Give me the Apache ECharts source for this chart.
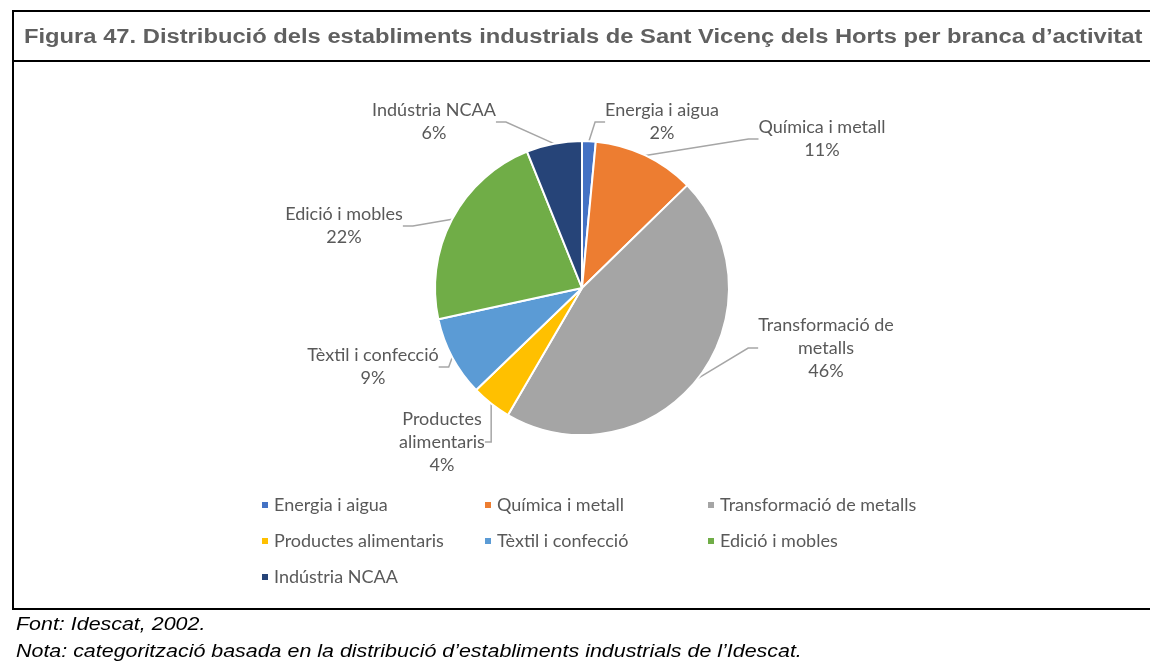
<!DOCTYPE html>
<html>
<head>
<meta charset="utf-8">
<script src="https://cdn.jsdelivr.net/npm/echarts@6/dist/echarts.min.js"></script>
<style>
	html,body{margin:0;padding:0;background:#fff;}
	#echarts{width:1150px;height:662px;}
</style>
</head>
<body>
<div id="echarts"></div>
<script>
//branques d'activitat
var categories = ['Energia i aigua', 'Química i metall', 'Transformació de metalls', 'Productes alimentaris', 'Tèxtil i confecció', 'Edició i mobles', 'Indústria NCAA'];
//text de les etiquetes (amb salts de línia)
var labelNames = ['Energia i aigua', 'Química i metall', 'Transformació de\nmetalls', 'Productes\nalimentaris', 'Tèxtil i confecció', 'Edició i mobles', 'Indústria NCAA'];
//percentatge d'establiments
var values = [1.5, 11.2, 45.7, 4.4, 8.8, 22.3, 6.1];
var colors = ['#4472C4', '#ED7D31', '#A5A5A5', '#FFC000', '#5B9BD5', '#70AD47', '#264478'];
//posició del centre de cada etiqueta
var labelPos = [[662, 122], [822, 139], [826, 348], [442, 442], [373, 367], [344, 226], [434, 122]];

var titleText = 'Figura 47. Distribució dels establiments industrials de Sant Vicenç dels Horts per branca d\u2019activitat';
var fontText = 'Font: Idescat, 2002.';
var notaText = 'Nota: categorització basada en la distribució d\u2019establiments industrials de l\u2019Idescat.';

var data = [];
for (var i in categories) {
	data.push({name: categories[i], value: values[i], itemStyle: {color: colors[i]}});
}

var labelFont = 'Lato';

option = {
	backgroundColor: '#fff',
	animation: false,
	legend: {
		left: 255,
		top: 490,
		width: 700,
		icon: 'rect',
		itemWidth: 8,
		itemHeight: 8,
		itemGap: 16,
		data: categories,
		textStyle: {
			fontFamily: labelFont,
			fontSize: 18,
			color: '#595959',
			width: 193,
			lineHeight: 20
		}
	},
	graphic: [
		//marc
		{type: 'line', shape: {x1: 12, y1: 11, x2: 1150, y2: 11}, style: {stroke: '#000', lineWidth: 2}},
		{type: 'line', shape: {x1: 12, y1: 61, x2: 1150, y2: 61}, style: {stroke: '#000', lineWidth: 2}},
		{type: 'line', shape: {x1: 13, y1: 10, x2: 13, y2: 610}, style: {stroke: '#000', lineWidth: 2}},
		{type: 'line', shape: {x1: 12, y1: 609, x2: 1150, y2: 609}, style: {stroke: '#000', lineWidth: 2}},
		//títol i peu
		{type: 'text', x: 24, y: 37, scaleX: 1.187, style: {text: titleText, font: 'bold 20px "Liberation Sans"', fill: '#606060', verticalAlign: 'middle'}},
		{type: 'text', x: 16, y: 625, scaleX: 1.19, style: {text: fontText, font: 'italic 18px "Liberation Sans"', fill: '#000', verticalAlign: 'middle'}},
		{type: 'text', x: 16, y: 652, scaleX: 1.19, style: {text: notaText, font: 'italic 18px "Liberation Sans"', fill: '#000', verticalAlign: 'middle'}}
	],
	series: [{
		type: 'pie',
		center: [582, 288],
		radius: [0, 147],
		startAngle: 90,
		clockwise: true,
		itemStyle: {
			borderColor: '#fff',
			borderWidth: 2
		},
		label: {
			show: true,
			position: 'outside',
			fontFamily: labelFont,
			fontSize: 18,
			lineHeight: 23,
			color: '#595959',
			align: 'center',
			formatter: function(param) {
				return labelNames[param.dataIndex] + '\n' + Math.round(param.percent) + '%';
			}
		},
		labelLine: {
			show: true,
			length: 10,
			length2: 10,
			lineStyle: {
				color: '#A6A6A6',
				width: 1.5
			}
		},
		labelLayout: function(params) {
			var p = labelPos[params.dataIndex];
			return {
				x: p[0],
				y: p[1],
				align: 'center',
				verticalAlign: 'middle'
			};
		},
		data: data
	}]
};
var myChart = echarts.init(document.getElementById('echarts'));
myChart.setOption(option, true);
</script>
</body>
</html>
